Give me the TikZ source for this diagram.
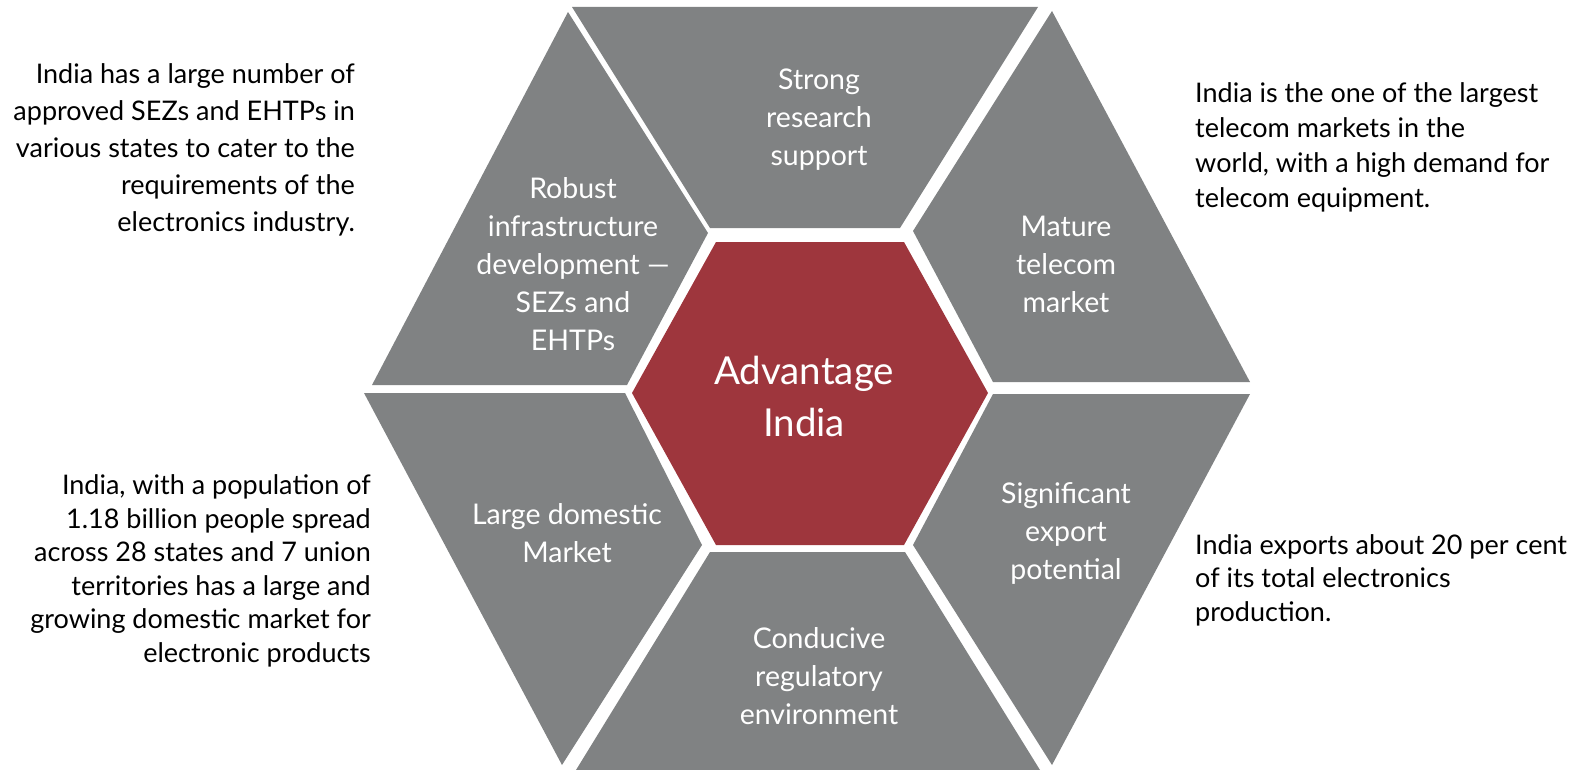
\documentclass[tikz,border=0pt]{standalone}
\usepackage{fontspec}
\setmainfont{Lato}
\definecolor{mygrey}{RGB}{128,130,131}
\definecolor{mydarkred}{RGB}{158,54,61}
\tikzset{
    piecetext/.style={text=white, align=center, inner sep=0, font=\fontsize{28.5}{38}\selectfont},
    sidetext/.style={text=black, inner sep=0, font=\fontsize{27}{37}\selectfont}
}

\begin{document}
\begin{tikzpicture}[x=1pt, y=-1pt]
    \useasboundingbox (0,0) rectangle (1581,770);

    % outer pieces of the hexagon
    \fill[mygrey] (572,7) -- (1038,7) -- (900,228) -- (710,228) -- cycle;
    \fill[mygrey] (568,12) -- (708,233) -- (627,385) -- (372,385) -- cycle;
    \fill[mygrey] (1052,11) -- (913,231) -- (993,382) -- (1250,382) -- cycle;
    \fill[mygrey] (364,393) -- (625,393) -- (702,545) -- (562,765) -- cycle;
    \fill[mygrey] (993,394) -- (1250,394) -- (1052,765) -- (913,545) -- cycle;
    \fill[mygrey] (710,552) -- (905,552) -- (1040,770) -- (576,770) -- cycle;

    % centre hexagon
    \fill[mydarkred] (716,242) -- (904,242) -- (988,393) -- (904,545) -- (716,545) -- (632,393) -- cycle;

    \node[piecetext, font=\fontsize{38.5}{52}\selectfont] (advantage) at (804,396) {Advantage\\India};
    \node[piecetext] (research) at (819,120) {Strong\\research\\support};
    \node[piecetext] (infra) at (573,264) {Robust\\infrastructure\\development ---\\SEZs and\\EHTPs};
    \node[piecetext] (telecom) at (1066,264) {Mature\\telecom\\market};
    \node[piecetext] (domestic) at (567,533) {Large domestic\\Market};
    \node[piecetext] (export) at (1066,533) {Significant\\export\\potential};
    \node[piecetext] (regulatory) at (819,676) {Conducive\\regulatory\\environment};

    % explanations
    \node[sidetext, align=right, anchor=east] (sezinfo) at (355,150) {India has a large number of\\approved SEZs and EHTPs in\\various states to cater to the\\requirements of the\\electronics industry.};
    \node[sidetext, align=right, anchor=east, font=\fontsize{27}{33.5}\selectfont] (popinfo) at (371,571) {India, with a population of\\1.18 billion people spread\\across 28 states and 7 union\\territories has a large and\\growing domestic market for\\electronic products};
    \node[sidetext, align=left, anchor=west, font=\fontsize{27}{35}\selectfont] (telinfo) at (1195,147) {India is the one of the largest\\telecom markets in the\\world, with a high demand for\\telecom equipment.};
    \node[sidetext, align=left, anchor=west, font=\fontsize{27}{33.5}\selectfont] (expinfo) at (1195,580) {India exports about 20 per cent\\of its total electronics\\production.};

\end{tikzpicture}
\end{document}
